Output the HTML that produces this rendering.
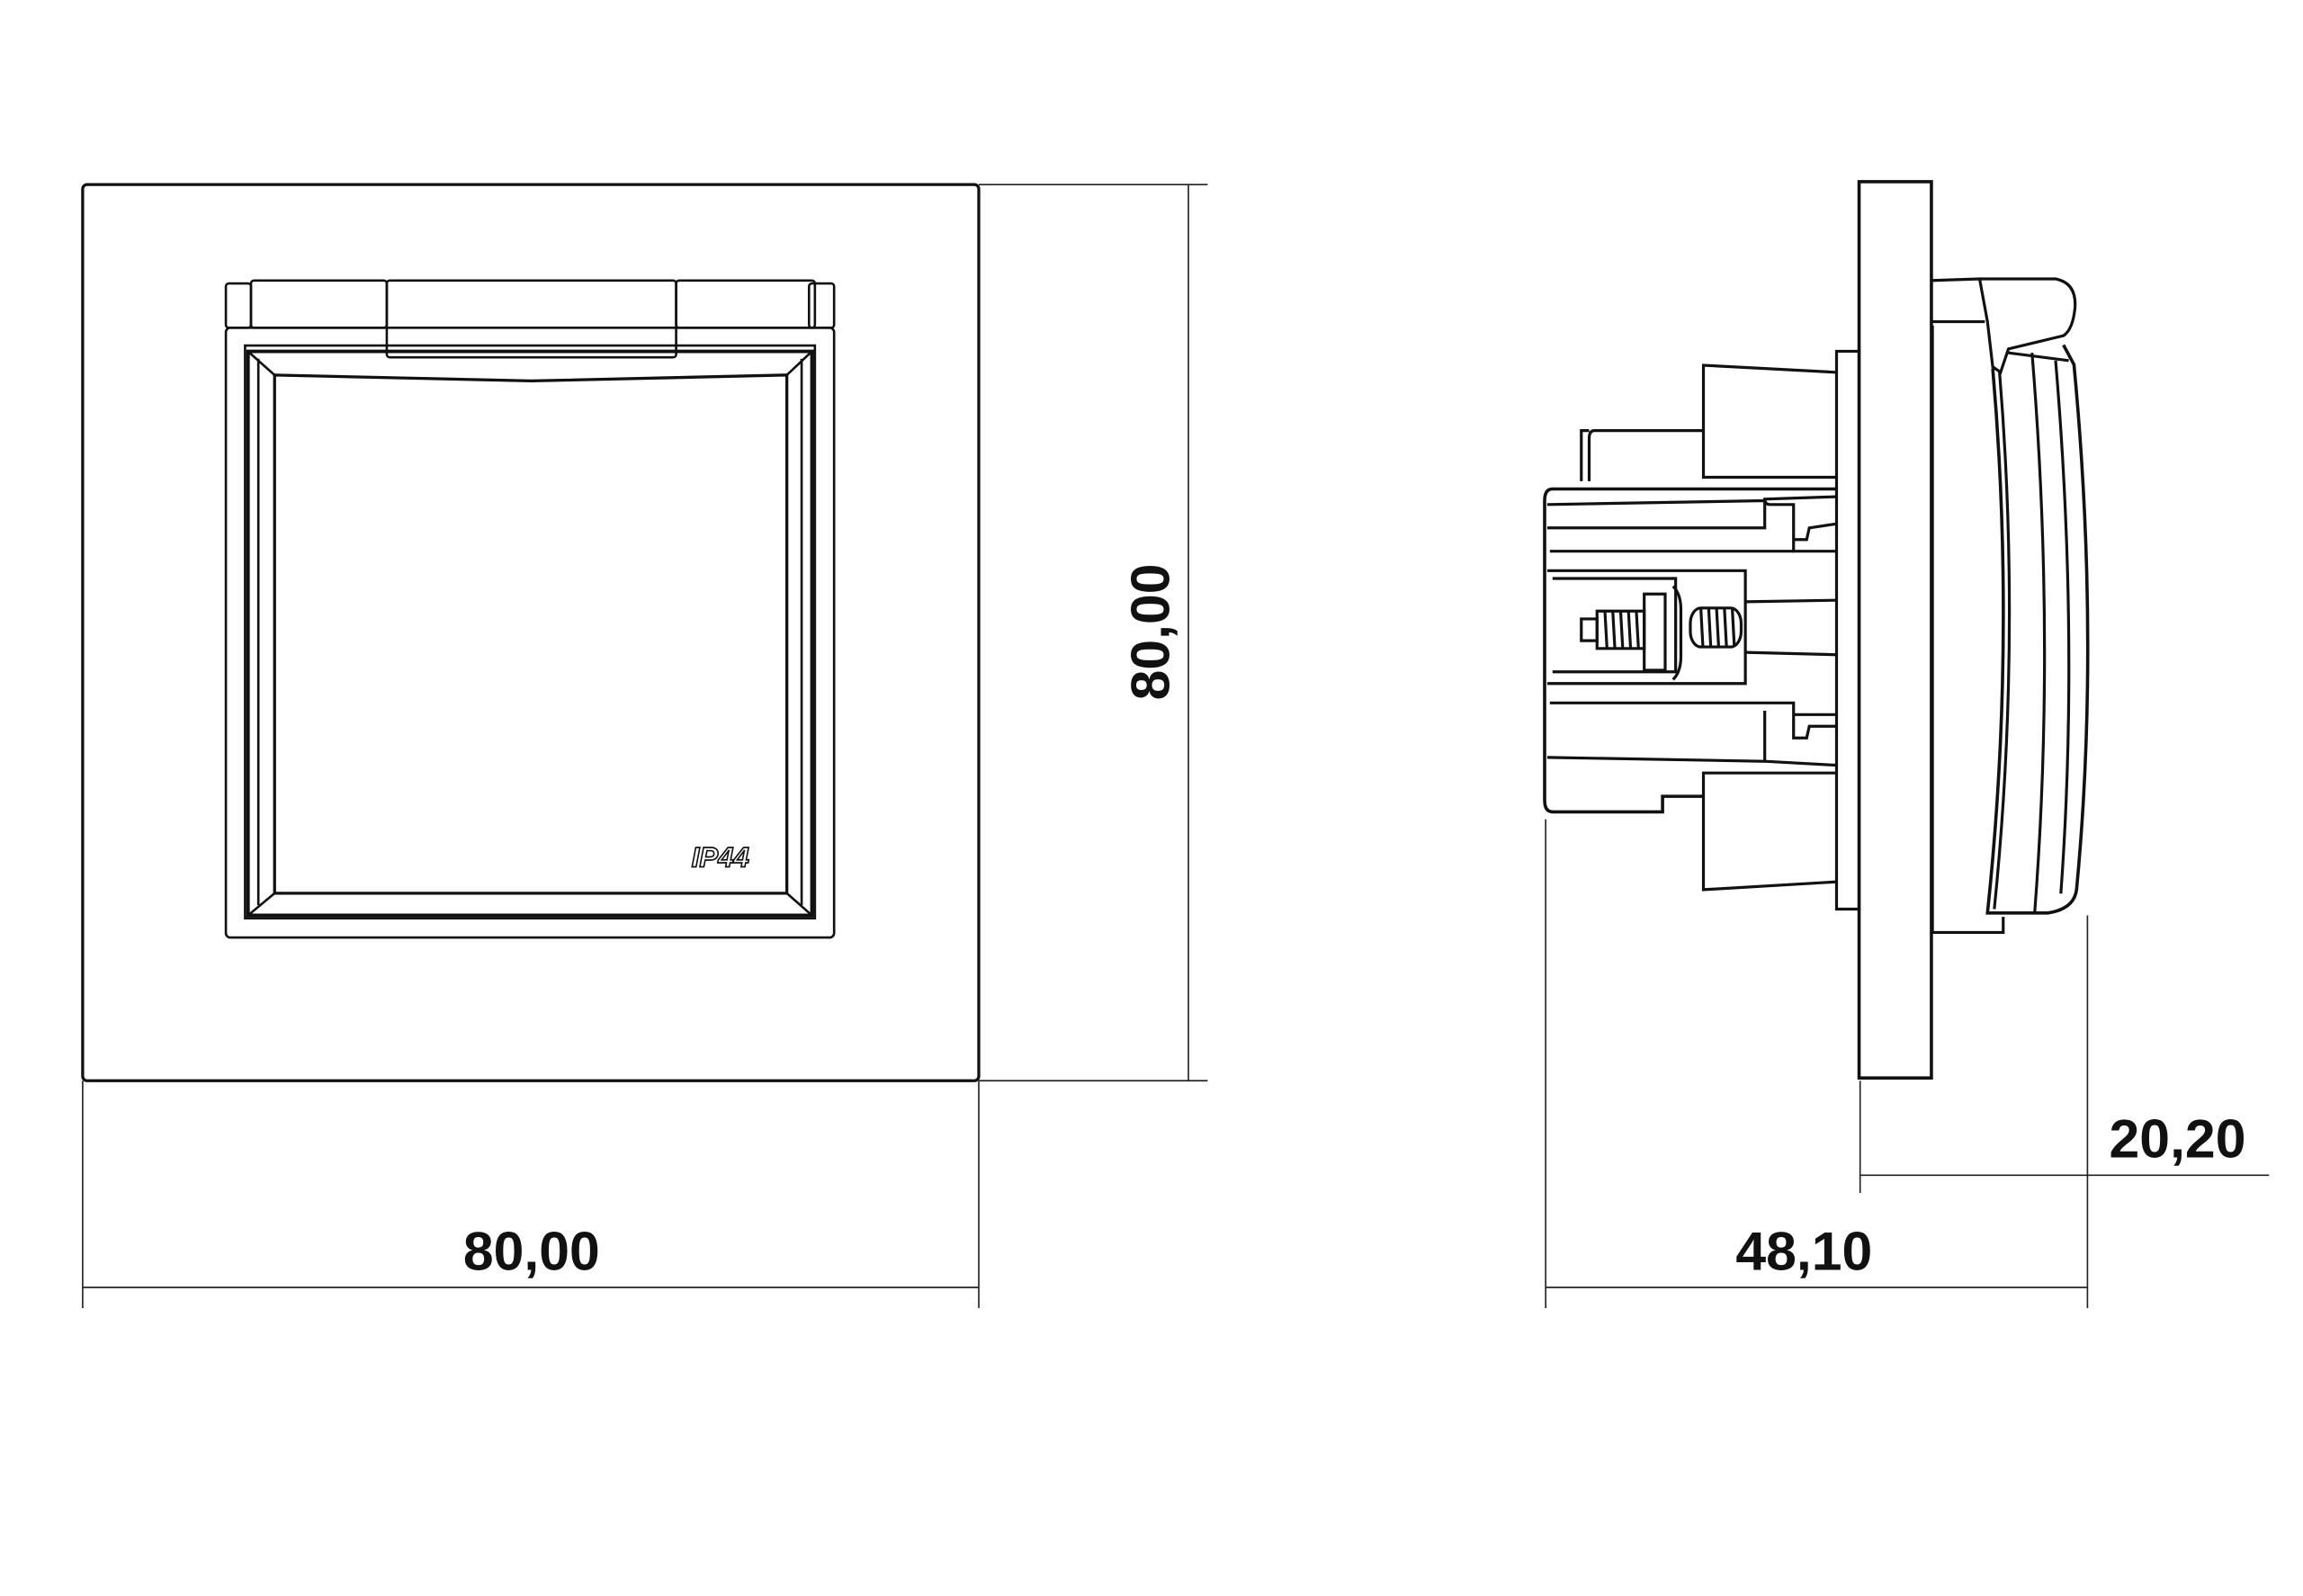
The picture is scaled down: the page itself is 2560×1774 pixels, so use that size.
<!DOCTYPE html>
<html><head><meta charset="utf-8"><style>html,body{margin:0;padding:0;background:#fff}svg{display:block}</style></head>
<body>
<svg width="2560" height="1774" viewBox="0 0 1560 1081" xmlns="http://www.w3.org/2000/svg" font-family="Liberation Sans, sans-serif">
<rect width="1560" height="1081" fill="#fff"/>
<g fill="none" stroke="#111" stroke-width="1.6">
<rect x="56" y="125" width="607" height="607" rx="3" stroke-width="2"/>
<rect x="153" y="222" width="412" height="413" rx="3"/>
<rect x="153" y="192" width="17" height="30" rx="2"/>
<rect x="170" y="190" width="92" height="32" rx="2"/>
<rect x="262" y="190" width="196" height="52" rx="2"/>
<rect x="458" y="190" width="94" height="32" rx="2"/>
<rect x="548" y="192" width="17" height="30" rx="2"/>
<path d="M166,234 L552,234 L552,622 L166,622 Z"/>
<path d="M168,238 L550,238 L550,620 L168,620 Z" stroke-width="2.4"/>
<path d="M186,254 L360,258 L533,254 L533,605 L186,605 Z" stroke-width="2"/>
<path d="M168,238 L186,254 M550,238 L533,254 M168,620 L186,605 M550,620 L533,605"/>
<path d="M175,243 L175,613 M543,243 L543,613"/>
</g>
<text x="488" y="587" font-size="19" font-weight="bold" font-style="italic" fill="#fff" stroke="#111" stroke-width="1" text-anchor="middle">IP44</text>
<g stroke="#222" stroke-width="1" fill="none">
<line x1="56" y1="732" x2="56" y2="886"/><line x1="663" y1="732" x2="663" y2="886"/>
<line x1="56" y1="872" x2="663" y2="872"/>
<line x1="663" y1="125" x2="818" y2="125"/><line x1="663" y1="732" x2="818" y2="732"/>
<line x1="805" y1="125" x2="805" y2="732"/>
<line x1="1047" y1="555" x2="1047" y2="886"/><line x1="1414" y1="620" x2="1414" y2="886"/>
<line x1="1047" y1="872" x2="1414" y2="872"/>
<line x1="1260" y1="732" x2="1260" y2="808"/>
<line x1="1260" y1="796" x2="1537" y2="796"/>
</g>
<g font-weight="bold" font-size="37" fill="#111" text-anchor="middle">
<text x="360" y="860">80,00</text>
<text x="1222" y="860">48,10</text>
<text x="1475" y="784">20,20</text>
<text transform="translate(792,428) rotate(-90)" x="0" y="0">80,00</text>
</g>
<g transform="translate(1010.8,91.4) scale(0.355,0.527)" fill="none" stroke="#111">
<g stroke-width="3.2">
<rect x="700" y="60" width="138" height="1152" vector-effect="non-scaling-stroke" stroke-width="3.6"/>
<rect x="657" y="278" width="43" height="717" vector-effect="non-scaling-stroke"/>
<path vector-effect="non-scaling-stroke" d="M840,187 L930,185 L1075,185 Q1115,190 1112,222 Q1108,250 1090,258 L985,275 L970,305 L955,298 L945,240 L930,185"/>
<path vector-effect="non-scaling-stroke" d="M840,240 L940,240 M840,245 L840,1025 L975,1025 L975,1005"/>
<path vector-effect="non-scaling-stroke" d="M955,300 Q1000,650 945,1000 L1060,1000 Q1110,995 1115,970 Q1160,650 1110,295 L1090,270" stroke-width="3.6"/>
<path vector-effect="non-scaling-stroke" d="M968,305 Q1010,650 958,995 M1030,280 Q1075,650 1035,1000 M1075,290 Q1120,650 1085,975 M985,280 L1100,290"/>
<path vector-effect="non-scaling-stroke" d="M655,305 L403,296 L403,440 L655,440 M655,820 L403,820 L403,970 L655,960"/>
<path vector-effect="non-scaling-stroke" d="M403,380 L195,380 Q185,380 185,390 L185,445 M185,380 L170,380 L170,445"/>
<path vector-effect="non-scaling-stroke" d="M655,455 L115,455 Q100,455 100,470 L100,855 Q100,870 115,870 L325,870 L325,850 L403,850" stroke-width="3.6"/>
<path vector-effect="non-scaling-stroke" d="M655,465 L520,468 L520,505 L105,505 M105,475 L520,470 M520,468 Q520,475 530,475 L575,475 L575,520 L600,520 L605,505 L655,500 M575,520 L575,535 L655,535"/>
<path vector-effect="non-scaling-stroke" d="M110,535 L575,535 M105,560 L483,560 L483,705 L105,705 M115,570 L350,570 L350,690 L115,690"/>
<path vector-effect="non-scaling-stroke" d="M483,600 L655,598 M483,665 L655,668"/>
<path vector-effect="non-scaling-stroke" d="M110,730 L575,730 L575,775 L600,775 L605,760 L655,760 M575,730 L575,745 L655,745 M105,800 L520,805 L520,740 M520,805 L655,810"/>
<rect vector-effect="non-scaling-stroke" x="290" y="590" width="40" height="98"/>
<rect vector-effect="non-scaling-stroke" x="200" y="612" width="90" height="48"/>
<rect vector-effect="non-scaling-stroke" x="170" y="622" width="30" height="28"/>
<rect vector-effect="non-scaling-stroke" x="378" y="608" width="97" height="50" rx="20"/>
<path vector-effect="non-scaling-stroke" d="M345,580 Q360,590 360,610 L360,670 Q360,690 345,700"/>
<path vector-effect="non-scaling-stroke" d="M215,612 l4,48 M230,612 l4,48 M245,612 l4,48 M260,612 l4,48 M275,612 l4,48 M398,608 l4,50 M413,608 l4,50 M428,608 l4,50 M443,608 l4,50 M458,608 l4,50"/>
</g>
</g>
</svg>
</body></html>
